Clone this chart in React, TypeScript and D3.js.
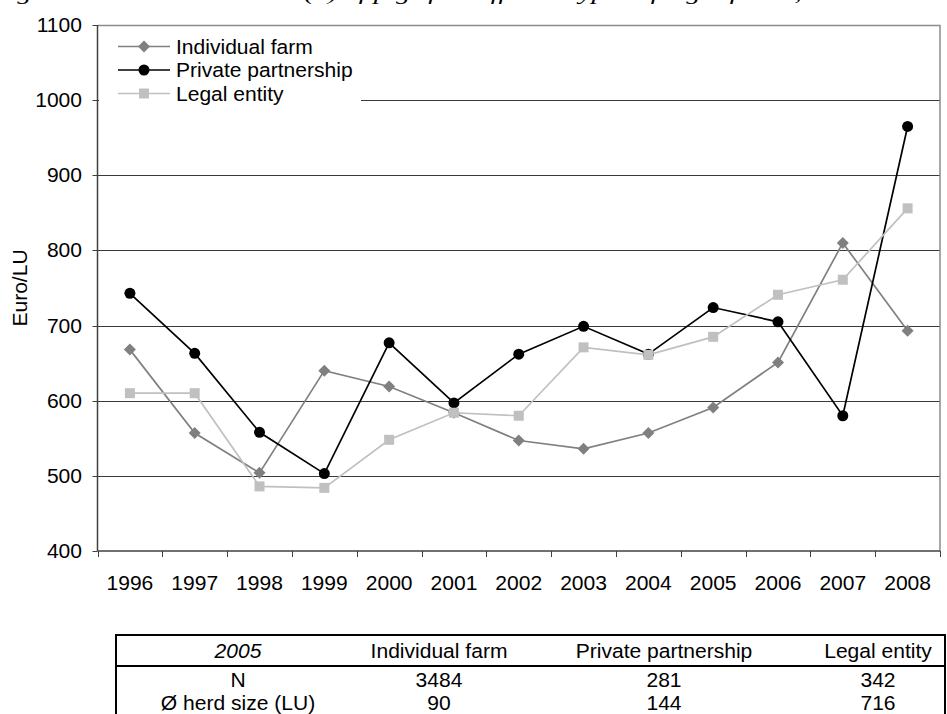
import React, { useEffect, useRef } from 'react';
import * as d3 from 'd3';

const years = ['1996', '1997', '1998', '1999', '2000', '2001', '2002', '2003', '2004', '2005', '2006', '2007', '2008'];
const individualFarm = [668, 557, 504, 640, 619, 584, 547, 536, 557, 591, 651, 810, 693];
const privatePartnership = [743, 663, 558, 503, 677, 597, 662, 699, 662, 724, 705, 580, 965];
const legalEntity = [610, 610, 486, 484, 548, 584, 580, 671, 661, 685, 741, 761, 856];
const yTicks = [400, 500, 600, 700, 800, 900, 1000, 1100];

const tableHeader = ['2005', 'Individual farm', 'Private partnership', 'Legal entity'];
const tableRows = [
  ['N', '3484', '281', '342'],
  ['Ø herd size (LU)', '90', '144', '716'],
];

const series = [
  { name: 'Individual farm', values: individualFarm, color: '#808080', marker: 'diamond' },
  { name: 'Private partnership', values: privatePartnership, color: '#000000', marker: 'circle' },
  { name: 'Legal entity', values: legalEntity, color: '#c0c0c0', marker: 'square' },
];

const FONT = 'Liberation Sans, Arial, sans-serif';
const FS = 19.5;
const SX = 1.08; // text in the source is a little wider than plain Arial

export default function App() {
  const svgRef = useRef<SVGSVGElement>(null);

  useEffect(() => {
    if (!svgRef.current) return;
    const H = 714;
    const left = 97.5, right = 940, top = 25, bottom = 551;

    const svg = d3.select(svgRef.current);
    svg.selectAll('*').remove();

    const x = d3.scaleBand().domain(years).range([left, right]);
    const y = d3.scaleLinear().domain([400, 1100]).range([bottom, top]);

    // helper: stretched text anchored at (tx, ty)
    const label = (g: any, tx: number, ty: number, t: string, anchor = 'middle', italic = false) =>
      g.append('text')
        .attr('transform', `translate(${tx},${ty}) scale(${SX},1)`)
        .attr('dy', '0.36em')
        .attr('text-anchor', anchor)
        .attr('font-family', FONT).attr('font-size', FS)
        .attr('font-style', italic ? 'italic' : 'normal')
        .text(t);

    // caption (cut off at top of the picture)
    svg.append('text')
      .attr('x', -8).attr('y', -0.5)
      .attr('font-family', 'Liberation Serif, Times New Roman, serif')
      .attr('font-style', 'italic')
      .attr('font-size', 19)
      .attr('textLength', 940)
      .attr('lengthAdjust', 'spacingAndGlyphs')
      .text('Figure 5: Production costs (€) of pigs for different types of legal forms, 1996-2008');

    // gridlines
    svg.append('g').selectAll('line')
      .data(yTicks.filter(t => t > 400 && t < 1100))
      .join('line')
      .attr('x1', left).attr('x2', right)
      .attr('y1', d => Math.round(y(d)) + 0.5).attr('y2', d => Math.round(y(d)) + 0.5)
      .attr('stroke', '#3a3a3a').attr('stroke-width', 1);

    // plot border top/right
    svg.append('path')
      .attr('d', `M${left},${top + 0.5}H${right}V${bottom}`)
      .attr('fill', 'none').attr('stroke', '#8c8c8c').attr('stroke-width', 1.5);

    // y axis
    const ya = svg.append('g');
    ya.append('line').attr('x1', left).attr('x2', left).attr('y1', top).attr('y2', bottom)
      .attr('stroke', '#404040').attr('stroke-width', 1.5);
    ya.selectAll('line.t').data(yTicks).join('line').attr('class', 't')
      .attr('x1', left - 5).attr('x2', left)
      .attr('y1', d => Math.round(y(d)) + 0.5).attr('y2', d => Math.round(y(d)) + 0.5)
      .attr('stroke', '#404040');
    yTicks.forEach(t => label(ya, 82, y(t), String(t), 'end'));

    svg.append('text')
      .attr('transform', `translate(20,${(top + bottom) / 2}) rotate(-90) scale(${SX},1)`)
      .attr('text-anchor', 'middle').attr('dy', '0.36em')
      .attr('font-family', FONT).attr('font-size', FS)
      .text('Euro/LU');

    // x axis
    const xa = svg.append('g');
    xa.append('line').attr('x1', left).attr('x2', right).attr('y1', bottom).attr('y2', bottom)
      .attr('stroke', '#404040').attr('stroke-width', 1.5);
    const bounds = years.map(d => x(d) as number).concat([right]);
    xa.selectAll('line.t').data(bounds).join('line').attr('class', 't')
      .attr('x1', d => Math.round(d) + 0.5).attr('x2', d => Math.round(d) + 0.5)
      .attr('y1', bottom).attr('y2', bottom + 6)
      .attr('stroke', '#404040');
    years.forEach(d => label(xa, (x(d) as number) + x.bandwidth() / 2, 583, d));

    const cx = (i: number) => (x(years[i]) as number) + x.bandwidth() / 2;

    const drawMarker = (g: any, type: string, px: number, py: number, color: string) => {
      if (type === 'diamond') {
        g.append('path').attr('d', `M${px},${py - 6}L${px + 6},${py}L${px},${py + 6}L${px - 6},${py}Z`).attr('fill', color);
      } else if (type === 'circle') {
        g.append('circle').attr('cx', px).attr('cy', py).attr('r', 5.5).attr('fill', color);
      } else {
        g.append('rect').attr('x', px - 5).attr('y', py - 5).attr('width', 10).attr('height', 10).attr('fill', color);
      }
    };

    const line = d3.line<number>().x((_, i) => cx(i)).y(d => y(d));
    series.forEach(s => {
      const g = svg.append('g');
      g.append('path').datum(s.values).attr('d', line)
        .attr('fill', 'none').attr('stroke', s.color).attr('stroke-width', 1.7);
      s.values.forEach((v, i) => drawMarker(g, s.marker, cx(i), y(v), s.color));
    });

    // legend
    const lg = svg.append('g');
    lg.append('rect').attr('x', left + 1.5).attr('y', 30).attr('width', 262).attr('height', 76).attr('fill', '#fff');
    series.forEach((s, i) => {
      const ly = 46.5 + i * 23.5;
      lg.append('line').attr('x1', 118).attr('x2', 170).attr('y1', ly).attr('y2', ly)
        .attr('stroke', s.color).attr('stroke-width', 1.7);
      drawMarker(lg, s.marker, 144, ly, s.color);
      label(lg, 176, ly, s.name, 'start');
    });

    // table
    const tb = svg.append('g');
    const tLeft = 116, tRight = 945, tTop = 635, tSep = 666;
    tb.append('path').attr('d', `M${tLeft},${H + 2}V${tTop}H${tRight}V${H + 2}`)
      .attr('fill', 'none').attr('stroke', '#000').attr('stroke-width', 2);
    tb.append('line').attr('x1', tLeft).attr('x2', tRight).attr('y1', tSep).attr('y2', tSep)
      .attr('stroke', '#000').attr('stroke-width', 2);
    const colX = [238, 439, 664, 878];
    tableHeader.forEach((t, i) => label(tb, colX[i], 650.5, t, 'middle', i === 0));
    tableRows.forEach((row, r) => {
      row.forEach((t, i) => label(tb, colX[i], 680 + r * 23, t));
    });
  }, []);

  return (
    <svg ref={svgRef} width={947} height={714}
      style={{ position: 'absolute', left: 0, top: 0, background: '#fff' }} />
  );
}
